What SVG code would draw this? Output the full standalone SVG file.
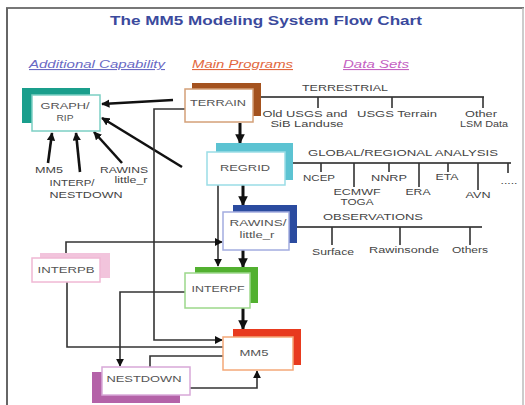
<svg xmlns="http://www.w3.org/2000/svg" width="525" height="405" viewBox="0 0 525 405">
<defs>
<marker id="ah" viewBox="0 0 10 10" refX="9" refY="5" markerWidth="3.2" markerHeight="3.2" orient="auto" markerUnits="strokeWidth"><path d="M0,0 L10,5 L0,10 z" fill="#111"/></marker>
<marker id="ahs" viewBox="0 0 10 10" refX="9" refY="5" markerWidth="5" markerHeight="5" orient="auto" markerUnits="strokeWidth"><path d="M0,0 L10,5 L0,10 z" fill="#111"/></marker>
</defs>
<style>
text{font-family:"Liberation Sans",Arial,sans-serif;}
.box{fill:#fff;stroke-width:1.5;}
.bl{font-size:9px;fill:#555;text-anchor:middle;}
.dl{font-size:8.5px;fill:#444;text-anchor:middle;}
.ln{fill:none;stroke:#333;stroke-width:1.6;}
.dline{fill:none;stroke:#555;stroke-width:2.2;}
.tick{fill:none;stroke:#333;stroke-width:1.6;}
.thick{fill:none;stroke:#111;stroke-width:2.6;}
.main{fill:none;stroke:#111;stroke-width:3;}
.leg{font-size:11px;font-style:italic;text-decoration:underline;}
</style>
<rect width="525" height="405" fill="#fff"/>
<g id="frame">
<line x1="6" y1="8" x2="524" y2="8" stroke="#777" stroke-width="2.2"/>
<line x1="7" y1="8" x2="7" y2="405" stroke="#666" stroke-width="2"/>
<line x1="523" y1="8" x2="523" y2="405" stroke="#bbb" stroke-width="1.5"/>
</g>
<text x="266" y="25" font-size="13" font-weight="bold" fill="#3b4a9d" text-anchor="middle" textLength="312" lengthAdjust="spacingAndGlyphs">The MM5 Modeling System Flow Chart</text>
<g id="legend">
<text class="leg" x="29" y="68" fill="#6a6ac4" textLength="136" lengthAdjust="spacingAndGlyphs">Additional Capability</text>
<text class="leg" x="192" y="68" fill="#e2683e" textLength="101" lengthAdjust="spacingAndGlyphs">Main Programs</text>
<text class="leg" x="343" y="68" fill="#c462c2" textLength="66" lengthAdjust="spacingAndGlyphs">Data Sets</text>
</g>
<g id="connectors">
<line class="thick" x1="173" y1="100" x2="102" y2="104" marker-end="url(#ah)"/>
<line class="thick" x1="182" y1="167" x2="102" y2="118" marker-end="url(#ah)"/>
<line class="thick" x1="48" y1="163" x2="52" y2="133" marker-end="url(#ah)"/>
<line class="thick" x1="80" y1="172" x2="76" y2="133" marker-end="url(#ah)"/>
<line class="thick" x1="122" y1="163" x2="94" y2="132" marker-end="url(#ah)"/>
<line class="main" x1="240" y1="123" x2="240" y2="143" marker-end="url(#ah)"/>
<line class="main" x1="243" y1="185" x2="243" y2="205" marker-end="url(#ah)"/>
<line class="main" x1="243" y1="250" x2="243" y2="267" marker-end="url(#ah)"/>
<line class="main" x1="243" y1="308" x2="243" y2="329" marker-end="url(#ah)"/>
<path class="ln" d="M185,109 H154 V340 H222" marker-end="url(#ahs)"/>
<path class="ln" d="M218,185 V266" marker-end="url(#ahs)"/>
<path class="ln" d="M66,253 V242 H222" marker-end="url(#ahs)"/>
<path class="ln" d="M67,282 V347 H223" stroke-width="2.4"/>
<path class="ln" d="M185,292 H120 V366" marker-end="url(#ahs)"/>
<path class="ln" d="M223,356 H150 V367"/>
<path class="ln" d="M190,388 H257 V371" marker-end="url(#ahs)"/>
</g>
<g id="datasets">
<text class="dl" x="345" y="91" textLength="86" lengthAdjust="spacingAndGlyphs">TERRESTRIAL</text>
<path class="dline" d="M261,97 H484"/>
<path class="tick" d="M318,97 V108 M392,97 V108 M483,97 V108"/>
<text class="dl" x="305" y="117" textLength="85" lengthAdjust="spacingAndGlyphs">Old USGS and</text>
<text class="dl" x="307" y="127" textLength="73" lengthAdjust="spacingAndGlyphs">SiB Landuse</text>
<text class="dl" x="397" y="117" textLength="80" lengthAdjust="spacingAndGlyphs">USGS Terrain</text>
<text class="dl" x="481" y="117" textLength="32" lengthAdjust="spacingAndGlyphs">Other</text>
<text class="dl" x="484" y="127" textLength="48" lengthAdjust="spacingAndGlyphs">LSM Data</text>
<text class="dl" x="403" y="156" textLength="190" lengthAdjust="spacingAndGlyphs">GLOBAL/REGIONAL ANALYSIS</text>
<path class="dline" d="M293,163 H511"/>
<path class="tick" d="M321,163 V172 M354,163 V187 M389,163 V172 M419,163 V187 M448,163 V172 M478,163 V190 M508,163 V173"/>
<text class="dl" x="319" y="181" textLength="32" lengthAdjust="spacingAndGlyphs">NCEP</text>
<text class="dl" x="357" y="195" textLength="47" lengthAdjust="spacingAndGlyphs">ECMWF</text>
<text class="dl" x="357" y="205" textLength="33" lengthAdjust="spacingAndGlyphs">TOGA</text>
<text class="dl" x="389" y="181" textLength="36" lengthAdjust="spacingAndGlyphs">NNRP</text>
<text class="dl" x="418" y="195" textLength="25" lengthAdjust="spacingAndGlyphs">ERA</text>
<text class="dl" x="447" y="180" textLength="23" lengthAdjust="spacingAndGlyphs">ETA</text>
<text class="dl" x="478" y="198" textLength="25" lengthAdjust="spacingAndGlyphs">AVN</text>
<text class="dl" x="509" y="184" fill="#999" textLength="17" lengthAdjust="spacingAndGlyphs">.....</text>
<text class="dl" x="373" y="220" textLength="100" lengthAdjust="spacingAndGlyphs">OBSERVATIONS</text>
<path class="dline" d="M297,227 H482"/>
<path class="tick" d="M332,227 V245 M400,227 V245 M470,227 V245"/>
<text class="dl" x="333" y="255" textLength="42" lengthAdjust="spacingAndGlyphs">Surface</text>
<text class="dl" x="404" y="253" textLength="70" lengthAdjust="spacingAndGlyphs">Rawinsonde</text>
<text class="dl" x="470" y="253" textLength="36" lengthAdjust="spacingAndGlyphs">Others</text>
</g>
<g id="aux-labels">
<text class="dl" x="49" y="173" textLength="28" lengthAdjust="spacingAndGlyphs">MM5</text>
<text class="dl" x="124" y="173" textLength="48" lengthAdjust="spacingAndGlyphs">RAWINS</text>
<text class="dl" x="131" y="183" textLength="33" lengthAdjust="spacingAndGlyphs">little_r</text>
<text class="dl" x="72" y="186" textLength="45" lengthAdjust="spacingAndGlyphs">INTERP/</text>
<text class="dl" x="86" y="198" textLength="73" lengthAdjust="spacingAndGlyphs">NESTDOWN</text>
</g>
<g id="graph-rip">
<rect x="22" y="88" width="68" height="35" fill="#1a9e8c"/>
<rect class="box" x="32" y="95" width="68" height="36" stroke="#7ccfc4"/>
<text class="bl" x="65" y="109" textLength="49" lengthAdjust="spacingAndGlyphs">GRAPH/</text>
<text class="bl" x="65" y="121" textLength="17" lengthAdjust="spacingAndGlyphs">RIP</text>
</g>
<g id="terrain">
<rect x="192" y="83" width="69" height="33" fill="#a4521e"/>
<rect class="box" x="185" y="89" width="68" height="33" stroke="#d4a078"/>
<text class="bl" x="218" y="106" textLength="56" lengthAdjust="spacingAndGlyphs">TERRAIN</text>
</g>
<g id="regrid">
<rect x="216" y="143" width="77" height="37" fill="#5cc3d2"/>
<rect class="box" x="207" y="152" width="78" height="33" stroke="#9adde6"/>
<text class="bl" x="245" y="171" textLength="50" lengthAdjust="spacingAndGlyphs">REGRID</text>
</g>
<g id="rawins">
<rect x="233" y="205" width="64" height="38" fill="#2b4b9f"/>
<rect class="box" x="223" y="212" width="66" height="38" stroke="#a2acdf"/>
<text class="bl" x="258" y="226" textLength="57" lengthAdjust="spacingAndGlyphs">RAWINS/</text>
<text class="bl" x="257" y="238" textLength="35" lengthAdjust="spacingAndGlyphs">little_r</text>
</g>
<g id="interpf">
<rect x="195" y="267" width="63" height="36" fill="#52b030"/>
<rect class="box" x="185" y="273" width="65" height="35" stroke="#9cd88a"/>
<text class="bl" x="218" y="292" textLength="53" lengthAdjust="spacingAndGlyphs">INTERPF</text>
</g>
<g id="mm5">
<rect x="233" y="329" width="68" height="36" fill="#e83a1e"/>
<rect class="box" x="223" y="337" width="70" height="33" stroke="#f4a878"/>
<text class="bl" x="254" y="356" textLength="29" lengthAdjust="spacingAndGlyphs">MM5</text>
</g>
<g id="interpb">
<rect x="40" y="253" width="70" height="25" fill="#f2c4dc"/>
<rect class="box" x="32" y="258" width="68" height="24" stroke="#f0b8d4"/>
<text class="bl" x="66" y="273" textLength="57" lengthAdjust="spacingAndGlyphs">INTERPB</text>
</g>
<g id="nestdown">
<rect x="92" y="372" width="88" height="31" fill="#b462a8"/>
<rect class="box" x="102" y="367" width="88" height="28" stroke="#d8a8d8"/>
<text class="bl" x="144" y="382" textLength="75" lengthAdjust="spacingAndGlyphs">NESTDOWN</text>
</g>
</svg>
